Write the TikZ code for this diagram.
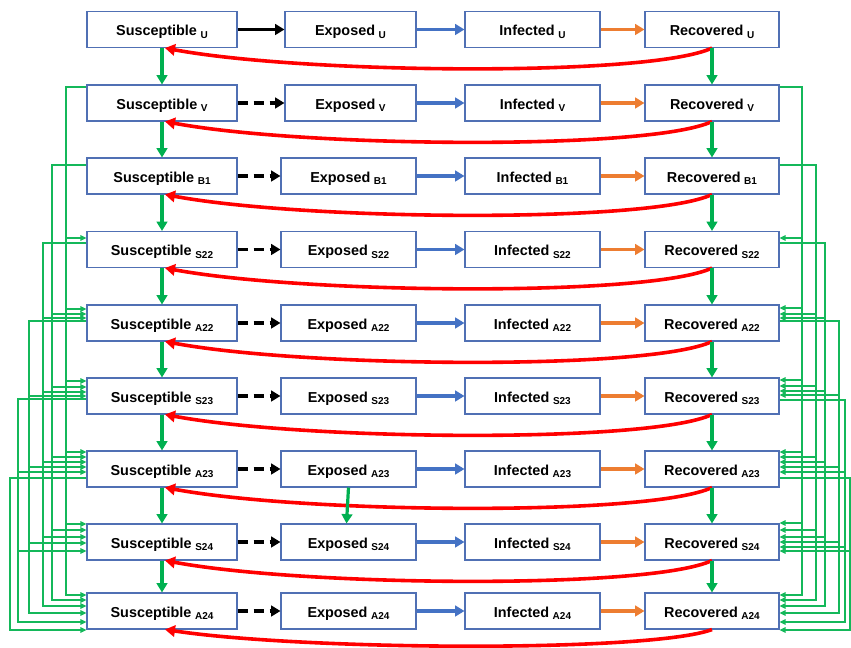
\documentclass[tikz,border=0pt]{standalone}
\usepackage{fontspec}
\setmainfont{Liberation Sans}
\usetikzlibrary{arrows.meta}
\definecolor{boxblue}{RGB}{80,112,180}
\definecolor{arrblue}{RGB}{68,114,196}
\definecolor{arrorange}{RGB}{237,125,49}
\definecolor{grn}{RGB}{0,176,80}
\definecolor{thingrn}{RGB}{20,184,90}
\newcommand{\lab}[2]{#1\hspace{0.25em}\raisebox{-1.9pt}[0pt][0pt]{\fontsize{7.5}{8}\selectfont #2}}
\newcommand{\trunkL}[6]{%
  \draw[thinline] (#1.west |- 0,#2) -| (#3,#5) -- (#4.west |- 0,#5);
  \foreach \n/\yy in {#6} {\draw[thinline] (#3,\yy) -- (\n.west |- 0,\yy);}
}
\newcommand{\trunkR}[6]{%
  \draw[thinline] (#1.east |- 0,#2) -| (#3,#5) -- (#4.east |- 0,#5);
  \foreach \n/\yy in {#6} {\draw[thinline] (#3,\yy) -- (\n.east |- 0,\yy);}
}
\begin{document}
\begin{tikzpicture}[x=0.75pt,y=-0.75pt,
  box/.style={draw=boxblue, line width=0.8pt, fill=white, inner sep=0pt,
    minimum height=27pt, text height=9.6pt, text depth=0pt,
    font=\bfseries\fontsize{10.8}{12}\selectfont},
  harrow/.style={line width=2.3pt, -{Triangle[length=7pt,width=8pt]}},
  garrow/.style={grn, line width=2.4pt, -{Triangle[length=7pt,width=8pt]}},
  redarrow/.style={red, line width=2.7pt, -{Triangle[length=7.5pt,width=8.5pt]}},
  thinline/.style={thingrn, line width=1.1pt, -{Triangle[length=4.5pt,width=4pt]}}]
\useasboundingbox (0,0) rectangle (851,648);

% nodes
\foreach \i/\y/\s/\ex/\ew in {1/29.5/U/350.5/98.25, 2/103/V/350.5/98.25, 3/176/B1/348.5/101.25,
   4/249.5/S22/348.5/101.25, 5/323/A22/348.5/101.25, 6/396/S23/348.5/101.25,
   7/469/A23/348.5/101.25, 8/542/S24/348.5/101.25, 9/611/A24/348.5/101.25} {
  \node[box, minimum width=112.5pt] (S\i) at (162,\y) {\lab{Susceptible}{\s}};
  \node[box, minimum width=\ew pt] (E\i) at (\ex,\y) {\lab{Exposed}{\s}};
  \node[box, minimum width=101.25pt] (I\i) at (532.5,\y) {\lab{Infected}{\s}};
  \node[box, minimum width=100.5pt] (R\i) at (712,\y) {\lab{Recovered}{\s}};
}

% row arrows
\draw[harrow, black] (S1.east) -- (E1.west);
\foreach \i in {2,...,9} {
  \draw[harrow, black, dash pattern=on 7.5pt off 4.5pt] (S\i.east) -- (E\i.west);
}
\foreach \i in {1,...,9} {
  \draw[harrow, arrblue] (E\i.east) -- (I\i.west);
  \draw[harrow, arrorange] (I\i.east) -- (R\i.west);
}

% red return curves
\foreach \i in {1,...,8} {
  \draw[redarrow] (R\i.south) .. controls +(-62,29) and +(140,26) .. ([xshift=2.25pt]S\i.south);
}
\draw[redarrow] (R9.south) .. controls +(-62,23) and +(140,21) .. ([xshift=2.25pt]S9.south);

% green vertical arrows
\foreach \i/\j in {1/2,2/3,3/4,4/5,5/6,6/7,7/8,8/9} {
  \draw[garrow] (S\i.south) -- (S\j.north);
  \draw[garrow] (R\i.south) -- (R\j.north);
}
\draw[garrow] (E7.south) -- ([xshift=-1.5pt]E8.north);

% left connectors
\trunkL{S2}{87}{66}{S9}{595}{S4/238, S5/309, S6/381, S7/452, S8/524}
\trunkL{S3}{165}{52}{S9}{600}{S5/314, S6/387, S7/457, S8/530}
\trunkL{S4}{243}{43}{S9}{606}{S5/318, S6/392, S7/462, S8/537}
\trunkL{S5}{321}{29}{S9}{613}{S6/396, S7/467, S8/543}
\trunkL{S6}{399}{18}{S9}{622}{S7/472, S8/551}
\draw[thinline] (S7.west |- 0,478) -| (10,630) -- (S9.west |- 0,630);

% right connectors
\trunkR{R2}{87}{802}{R9}{595}{R4/238, R5/308, R6/380, R7/452, R8/523}
\trunkR{R3}{165}{816}{R9}{600}{R5/314, R6/386, R7/457, R8/530}
\trunkR{R4}{243}{825}{R9}{606}{R5/318, R6/391, R7/462, R8/537}
\trunkR{R5}{321}{839}{R9}{613}{R6/395, R7/467, R8/542}
\trunkR{R6}{400}{845}{R9}{622}{R7/472, R8/547}
\trunkR{R7}{478}{850}{R9}{630}{R8/551}
\end{tikzpicture}
\end{document}
